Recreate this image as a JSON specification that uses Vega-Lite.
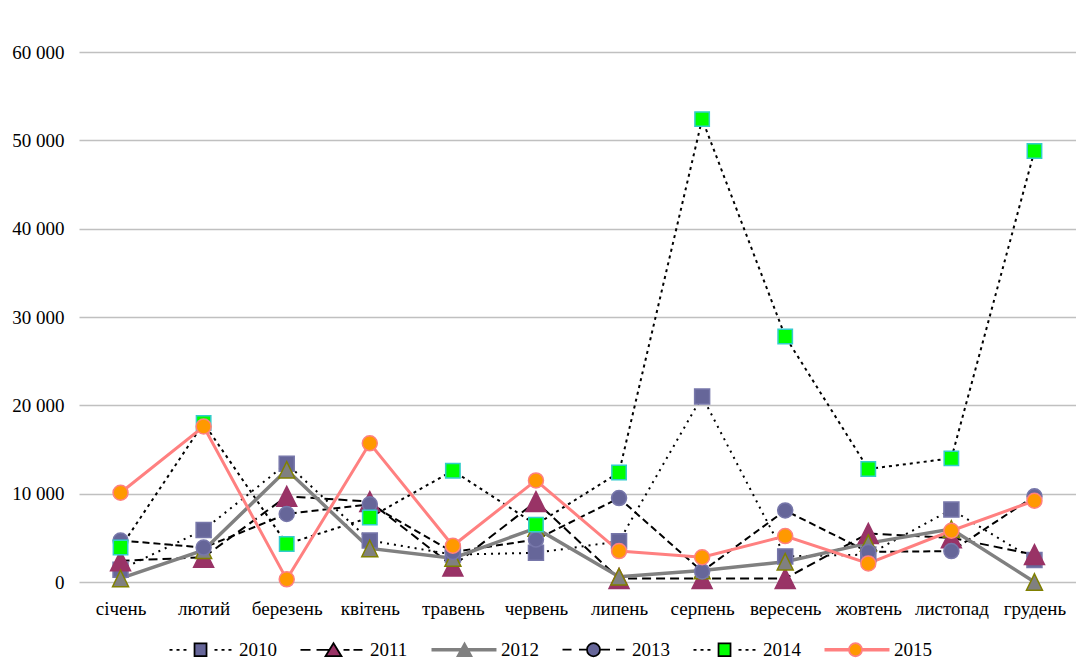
{
  "$schema": "https://vega.github.io/schema/vega-lite/v6.json",
  "width": 997,
  "height": 530,
  "autosize": {"type": "none"},
  "padding": {"left": 79, "top": 52, "right": 0, "bottom": 86},
  "background": "white",
  "config": {"view": {"stroke": null}, "font": "Liberation Serif"},
  "data": {"values": [
    {"month": "січень", "year": "2010", "value": 1400},
    {"month": "січень", "year": "2011", "value": 2400},
    {"month": "січень", "year": "2012", "value": 400},
    {"month": "січень", "year": "2013", "value": 4700},
    {"month": "січень", "year": "2014", "value": 3900},
    {"month": "січень", "year": "2015", "value": 10100},
    {"month": "лютий", "year": "2010", "value": 5900},
    {"month": "лютий", "year": "2011", "value": 2800},
    {"month": "лютий", "year": "2012", "value": 3600},
    {"month": "лютий", "year": "2013", "value": 3900},
    {"month": "лютий", "year": "2014", "value": 18000},
    {"month": "лютий", "year": "2015", "value": 17600},
    {"month": "березень", "year": "2010", "value": 13400},
    {"month": "березень", "year": "2011", "value": 9700},
    {"month": "березень", "year": "2012", "value": 12700},
    {"month": "березень", "year": "2013", "value": 7700},
    {"month": "березень", "year": "2014", "value": 4300},
    {"month": "березень", "year": "2015", "value": 300},
    {"month": "квітень", "year": "2010", "value": 4700},
    {"month": "квітень", "year": "2011", "value": 9100},
    {"month": "квітень", "year": "2012", "value": 3800},
    {"month": "квітень", "year": "2013", "value": 8800},
    {"month": "квітень", "year": "2014", "value": 7300},
    {"month": "квітень", "year": "2015", "value": 15700},
    {"month": "травень", "year": "2010", "value": 3100},
    {"month": "травень", "year": "2011", "value": 1800},
    {"month": "травень", "year": "2012", "value": 2700},
    {"month": "травень", "year": "2013", "value": 3400},
    {"month": "травень", "year": "2014", "value": 12600},
    {"month": "травень", "year": "2015", "value": 4100},
    {"month": "червень", "year": "2010", "value": 3300},
    {"month": "червень", "year": "2011", "value": 9100},
    {"month": "червень", "year": "2012", "value": 6100},
    {"month": "червень", "year": "2013", "value": 4800},
    {"month": "червень", "year": "2014", "value": 6500},
    {"month": "червень", "year": "2015", "value": 11500},
    {"month": "липень", "year": "2010", "value": 4600},
    {"month": "липень", "year": "2011", "value": 400},
    {"month": "липень", "year": "2012", "value": 600},
    {"month": "липень", "year": "2013", "value": 9500},
    {"month": "липень", "year": "2014", "value": 12400},
    {"month": "липень", "year": "2015", "value": 3500},
    {"month": "серпень", "year": "2010", "value": 21000},
    {"month": "серпень", "year": "2011", "value": 400},
    {"month": "серпень", "year": "2012", "value": 1300},
    {"month": "серпень", "year": "2013", "value": 1200},
    {"month": "серпень", "year": "2014", "value": 52400},
    {"month": "серпень", "year": "2015", "value": 2800},
    {"month": "вересень", "year": "2010", "value": 2900},
    {"month": "вересень", "year": "2011", "value": 400},
    {"month": "вересень", "year": "2012", "value": 2300},
    {"month": "вересень", "year": "2013", "value": 8100},
    {"month": "вересень", "year": "2014", "value": 27800},
    {"month": "вересень", "year": "2015", "value": 5200},
    {"month": "жовтень", "year": "2010", "value": 3100},
    {"month": "жовтень", "year": "2011", "value": 5500},
    {"month": "жовтень", "year": "2012", "value": 4400},
    {"month": "жовтень", "year": "2013", "value": 3400},
    {"month": "жовтень", "year": "2014", "value": 12800},
    {"month": "жовтень", "year": "2015", "value": 2100},
    {"month": "листопад", "year": "2010", "value": 8200},
    {"month": "листопад", "year": "2011", "value": 5000},
    {"month": "листопад", "year": "2012", "value": 6000},
    {"month": "листопад", "year": "2013", "value": 3500},
    {"month": "листопад", "year": "2014", "value": 14000},
    {"month": "листопад", "year": "2015", "value": 5800},
    {"month": "грудень", "year": "2010", "value": 2500},
    {"month": "грудень", "year": "2011", "value": 3100},
    {"month": "грудень", "year": "2012", "value": 0},
    {"month": "грудень", "year": "2013", "value": 9700},
    {"month": "грудень", "year": "2014", "value": 48800},
    {"month": "грудень", "year": "2015", "value": 9200}
  ]},
  "encoding": {
    "x": {
      "field": "month", "type": "nominal",
      "sort": ["січень", "лютий", "березень", "квітень", "травень", "червень", "липень", "серпень", "вересень", "жовтень", "листопад", "грудень"],
      "scale": {"type": "point", "padding": 0.5},
      "axis": {"title": null, "domain": false, "ticks": false, "grid": false, "labelAngle": 0, "labelPadding": 17, "labelFontSize": 19, "labelColor": "black", "labelFont": "Liberation Serif"}
    },
    "y": {
      "field": "value", "type": "quantitative",
      "scale": {"domain": [0, 60000], "nice": false},
      "axis": {"title": null, "values": [0, 10000, 20000, 30000, 40000, 50000, 60000], "domain": false, "ticks": false, "grid": true, "gridColor": "#C0C0C0", "gridWidth": 1.5, "labelPadding": 15, "labelFontSize": 19, "labelColor": "black", "labelFont": "Liberation Serif", "labelExpr": "replace(format(datum.value, ','), ',', ' ')"}
    }
  },
  "layer": [
    {
      "transform": [{"filter": "datum.year == '2010' || datum.year == '2011' || datum.year == '2013' || datum.year == '2014'"}],
      "mark": {"type": "line", "stroke": "black", "strokeWidth": 2},
      "encoding": {
        "detail": {"field": "year", "type": "nominal"},
        "strokeDash": {"field": "year", "type": "nominal", "legend": null,
          "scale": {"domain": ["2010", "2011", "2013", "2014"], "range": [[2, 5], [9, 5], [7, 4], [3, 4]]}}
      }
    },
    {
      "transform": [{"filter": "datum.year == '2012'"}],
      "mark": {"type": "line", "stroke": "#808080", "strokeWidth": 3.5},
      "encoding": {}
    },
    {
      "transform": [{"filter": "datum.year == '2015'"}],
      "mark": {"type": "line", "stroke": "#FF8080", "strokeWidth": 3},
      "encoding": {}
    },
    {
      "mark": {"type": "point", "filled": true, "opacity": 1, "size": 400, "strokeWidth": 1.5},
      "encoding": {
        "shape": {"field": "year", "type": "nominal", "legend": null,
          "scale": {"domain": ["2010", "2011", "2012", "2013", "2014", "2015"],
            "range": ["M-0.75,-0.75H0.75V0.75H-0.75Z", "M0,-1L1,1H-1Z", "M0,-0.82L0.8,0.82H-0.8Z", "M0.75,0A0.75,0.75,0,1,1,-0.75,0A0.75,0.75,0,1,1,0.75,0Z", "M-0.72,-0.72H0.72V0.72H-0.72Z", "M0.75,0A0.75,0.75,0,1,1,-0.75,0A0.75,0.75,0,1,1,0.75,0Z"]}},
        "fill": {"field": "year", "type": "nominal", "legend": null,
          "scale": {"domain": ["2010", "2011", "2012", "2013", "2014", "2015"],
            "range": ["#666699", "#993366", "#808080", "#666699", "#00FF00", "#FF9900"]}},
        "stroke": {"field": "year", "type": "nominal", "legend": null,
          "scale": {"domain": ["2010", "2011", "2012", "2013", "2014", "2015"],
            "range": ["#7777AA", "#993366", "#808000", "#7777AA", "#33CCCC", "#FF8080"]}}
      }
    },
    {
      "transform": [{"filter": "false"}],
      "mark": {"type": "point", "filled": true, "opacity": 1, "size": 144, "strokeWidth": 1.75},
      "encoding": {
        "shape": {"field": "year", "type": "nominal",
          "legend": {"orient": "none", "legendX": 87, "legendY": 588, "direction": "horizontal", "title": null, "columns": 6, "labelFont": "Liberation Serif", "labelFontSize": 19, "labelColor": "black", "symbolSize": 144, "symbolStrokeWidth": 1.75, "labelOffset": 54, "columnPadding": 20},
          "scale": {"domain": ["2010", "2011", "2012", "2013", "2014", "2015"],
            "range": [
              "M-1,0H-0.5M0.17,0H0.67M1.33,0H1.83M6.5,0H7M7.67,0H8.17M8.83,0H9.33M3.17,-1.08H5.17V1.08H3.17Z",
              "M-1,0H0.67M1.67,0H3.83M6.17,0H7.17M7.83,0H9.33M4.5,-1.08L5.83,1.08H3.17Z",
              "M-1,-0.15H3.92M-1,0.15H3.92M5.08,-0.15H9.83M5.08,0.15H9.83M4.5,-1.08L5.67,1.08H3.33Z",
              "M-1,0H0.5M1.75,0H3.08M5.25,0H6.92M7.92,0H9.33M5.25,0A1.08,1.08,0,1,1,3.08,0A1.08,1.08,0,1,1,5.25,0Z",
              "M-1,0H-0.5M0.17,0H0.67M1.33,0H1.83M6.5,0H7M7.67,0H8.17M8.83,0H9.33M3.17,-1.08H5.17V1.08H3.17Z",
              "M-1,-0.15H3.1M-1,0.15H3.1M5.23,-0.15H9.83M5.23,0.15H9.83M5.25,0A1.08,1.08,0,1,1,3.08,0A1.08,1.08,0,1,1,5.25,0Z"
            ]}},
        "fill": {"field": "year", "type": "nominal",
          "legend": {"orient": "none", "legendX": 87, "legendY": 588, "direction": "horizontal", "title": null, "columns": 6, "labelFont": "Liberation Serif", "labelFontSize": 19, "labelColor": "black", "symbolSize": 144, "symbolStrokeWidth": 1.75, "labelOffset": 54, "columnPadding": 20},
          "scale": {"domain": ["2010", "2011", "2012", "2013", "2014", "2015"],
            "range": ["#666699", "#993366", "#808080", "#666699", "#00FF00", "#FF9900"]}},
        "stroke": {"field": "year", "type": "nominal",
          "legend": {"orient": "none", "legendX": 87, "legendY": 588, "direction": "horizontal", "title": null, "columns": 6, "labelFont": "Liberation Serif", "labelFontSize": 19, "labelColor": "black", "symbolSize": 144, "symbolStrokeWidth": 1.75, "labelOffset": 54, "columnPadding": 20},
          "scale": {"domain": ["2010", "2011", "2012", "2013", "2014", "2015"],
            "range": ["black", "black", "#808080", "black", "black", "#FF8080"]}}
      }
    }
  ],
  "resolve": {"scale": {"shape": "independent", "fill": "independent", "stroke": "independent"}}
}
